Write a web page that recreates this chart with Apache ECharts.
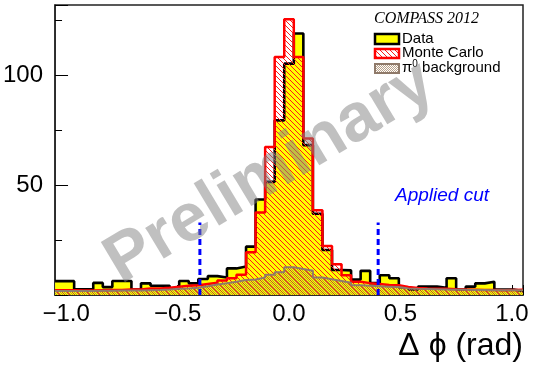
<!DOCTYPE html>
<html><head><meta charset="utf-8">
<script src="https://cdn.jsdelivr.net/npm/echarts@6/dist/echarts.min.js"></script>
<style>html,body{margin:0;padding:0;background:#fff}#c{width:533px;height:367px}</style>
</head><body><div id="c"></div>
<script>
// ---- data ----
const xMin = -1.05, xMax = 1.05;
const nBins = 49;
const dataCounts = [6.3,6.3,2.6,2.6,5.5,3.6,6.4,6.4,2.5,5.3,4.2,4.2,3.0,6.4,5.3,7.3,8.6,8.0,12.1,13.0,22.0,43.5,51.5,79.5,105.3,119.0,68.2,37.0,20.5,11.4,11.2,7.0,11.0,5.4,9.0,7.6,3.5,2.5,3.8,3.8,3.3,7.6,2.5,3.8,5.3,6.0,2.5,2.5,1.8];
const mcCounts = [2.2,2.2,2.0,2.0,2.2,2.3,2.3,2.5,2.5,3.0,3.0,3.3,3.8,4.2,4.4,5.0,5.6,6.6,7.6,9.2,19.5,37.5,67.4,108.3,125.5,108.3,71.2,38.6,22.3,14.0,9.0,6.0,5.4,5.0,4.6,4.4,3.6,3.2,3.0,2.9,2.8,2.6,2.5,2.4,2.3,2.3,2.2,2.3,2.4];
const pi0Counts = [1.8,1.8,1.8,1.8,1.9,1.9,2.0,2.0,2.0,2.2,2.3,2.5,2.8,3.0,3.3,4.0,4.8,5.4,6.0,6.8,7.1,8.0,9.2,10.4,12.6,11.8,11.0,8.0,7.2,6.4,5.6,4.4,4.2,4.0,3.8,3.6,3.0,2.8,2.7,2.6,2.5,2.4,2.4,2.3,2.3,2.2,2.2,2.2,2.2];
const cutPositions = [-0.4, 0.4];
const cutHeight = 33;
const yMax = 132;
const legendLabels = ['Data', 'Monte Carlo', 'π0 background'];

// ---- helpers ----
const binW = (xMax - xMin) / nBins;
function stepData(vals) {
  const d = vals.map((v, i) => [xMin + i * binW, v]);
  d.push([xMax, vals[vals.length - 1]]);
  return d;
}
function hatch(color, s, lw) {
  const c = document.createElement('canvas');
  c.width = s; c.height = s;
  const g = c.getContext('2d');
  g.strokeStyle = color; g.lineWidth = lw;
  g.beginPath();
  g.moveTo(-1, -1); g.lineTo(s + 1, s + 1);
  g.moveTo(-1, s - 1); g.lineTo(1, s + 1);
  g.moveTo(s - 1, -1); g.lineTo(s + 1, 1);
  g.stroke();
  return { image: c, repeat: 'repeat' };
}
function dots(color) {
  const c = document.createElement('canvas');
  c.width = 2; c.height = 2;
  const g = c.getContext('2d');
  g.fillStyle = color;
  g.fillRect(0, 0, 1, 1); g.fillRect(1, 1, 1, 1);
  return { image: c, repeat: 'repeat' };
}
const redHatch = hatch('#ff1a1a', 5, 1);
const brownDots = dots('rgba(140,100,60,0.6)');

const font = 'Liberation Sans';
const chart = echarts.init(document.getElementById('c'), null, { renderer: 'canvas', width: 533, height: 367 });

const series = [
  { name: legendLabels[0], type: 'line', step: 'end', data: stepData(dataCounts), symbol: 'none',
    lineStyle: { color: '#000', width: 2.6 }, areaStyle: { color: '#ffff00', opacity: 1 }, z: 2, animation: false },
  { name: legendLabels[1], type: 'line', step: 'end', data: stepData(mcCounts), symbol: 'none',
    lineStyle: { color: '#ff0000', width: 2.5 }, areaStyle: { color: redHatch, opacity: 1 }, z: 3, animation: false },
  { name: legendLabels[2], type: 'line', step: 'end', data: stepData(pi0Counts), symbol: 'none',
    lineStyle: { color: '#8f7a6a', width: 2 }, areaStyle: { color: brownDots, opacity: 1 }, z: 4, animation: false }
];
cutPositions.forEach(x => series.push({
  type: 'line', data: [[x, 0], [x, cutHeight]], symbol: 'none', z: 5, animation: false,
  lineStyle: { color: '#0000ff', width: 3, type: [6, 4] }
}));

const fmtX = v => (v < 0 ? '\u2212' : '') + Math.abs(v).toFixed(1);

chart.setOption({
  animation: false,
  grid: { left: 53, right: 10, top: 5, bottom: 72, show: true, borderColor: '#222', borderWidth: 1.5, backgroundColor: '#fff' },
  xAxis: {
    type: 'value', min: xMin, max: xMax, splitNumber: 4,
    axisLine: { show: true, onZero: false, lineStyle: { color: '#222', width: 1.5 } },
    axisTick: { show: true, inside: true, length: 10, lineStyle: { color: '#000', width: 1 } },
    minorTick: { show: true, splitNumber: 5, length: 5, lineStyle: { color: '#000', width: 1 } },
    splitLine: { show: false },
    axisLabel: { formatter: fmtX, fontFamily: font, fontSize: 24, color: '#000', margin: 7, showMinLabel: false, showMaxLabel: false },
    name: 'Δ ϕ (rad)', nameLocation: 'end', nameGap: 0,
    nameTextStyle: { fontFamily: font, fontSize: 32, color: '#000', align: 'right', verticalAlign: 'top', padding: [35, 0, 0, 0] }
  },
  yAxis: {
    type: 'value', min: 0, max: yMax, interval: 50,
    axisLine: { show: true, onZero: false, lineStyle: { color: '#222', width: 1.5 } },
    axisTick: { show: true, inside: true, length: 13, lineStyle: { color: '#000', width: 1 } },
    minorTick: { show: true, splitNumber: 2, length: 7, lineStyle: { color: '#000', width: 1 } },
    splitLine: { show: false },
    axisLabel: { fontFamily: font, fontSize: 24, color: '#000', margin: 12, showMinLabel: false, showMaxLabel: false }
  },
  series: series,
  graphic: [
    { type: 'text', left: 374, top: 11, style: { text: 'COMPASS 2012', font: 'italic 16px "Liberation Serif"', fill: '#000' }, z: 10 },
    { type: 'rect', shape: { x: 375, y: 34, width: 24, height: 10 }, style: { fill: '#ffff00', stroke: '#000', lineWidth: 2.5 }, z: 10 },
    { type: 'rect', shape: { x: 375, y: 49, width: 24, height: 9 }, style: { fill: redHatch, stroke: '#ff0000', lineWidth: 2.5 }, z: 10 },
    { type: 'rect', shape: { x: 375, y: 64, width: 24, height: 9 }, style: { fill: brownDots, stroke: '#8f7a6a', lineWidth: 2 }, z: 10 },
    { type: 'text', x: 402, y: 39, style: { text: legendLabels[0], font: '15px "Liberation Sans"', fill: '#000', verticalAlign: 'middle' }, z: 10 },
    { type: 'text', x: 402, y: 53, style: { text: legendLabels[1], font: '15px "Liberation Sans"', fill: '#000', verticalAlign: 'middle' }, z: 10 },
    { type: 'text', x: 402, y: 68, style: { text: '{a|π}{s|0}{a| background}', verticalAlign: 'middle', fill: '#000',
        rich: { a: { fontFamily: font, fontSize: 15, lineHeight: 18 }, s: { fontFamily: font, fontSize: 10, lineHeight: 18, verticalAlign: 'top' } } }, z: 10 },
    { type: 'text', x: 395, y: 196, style: { text: 'Applied cut', font: 'italic 19px "Liberation Sans"', fill: '#0000ff', verticalAlign: 'middle' }, z: 10 },
    { type: 'text', x: 270, y: 173, rotation: 31 * Math.PI / 180,
      style: { text: 'Preliminary', font: 'bold 68px "Liberation Sans"', fill: 'rgba(130,130,130,0.5)', align: 'center', verticalAlign: 'middle' }, z: 20 }
  ]
});
</script>
</body></html>
